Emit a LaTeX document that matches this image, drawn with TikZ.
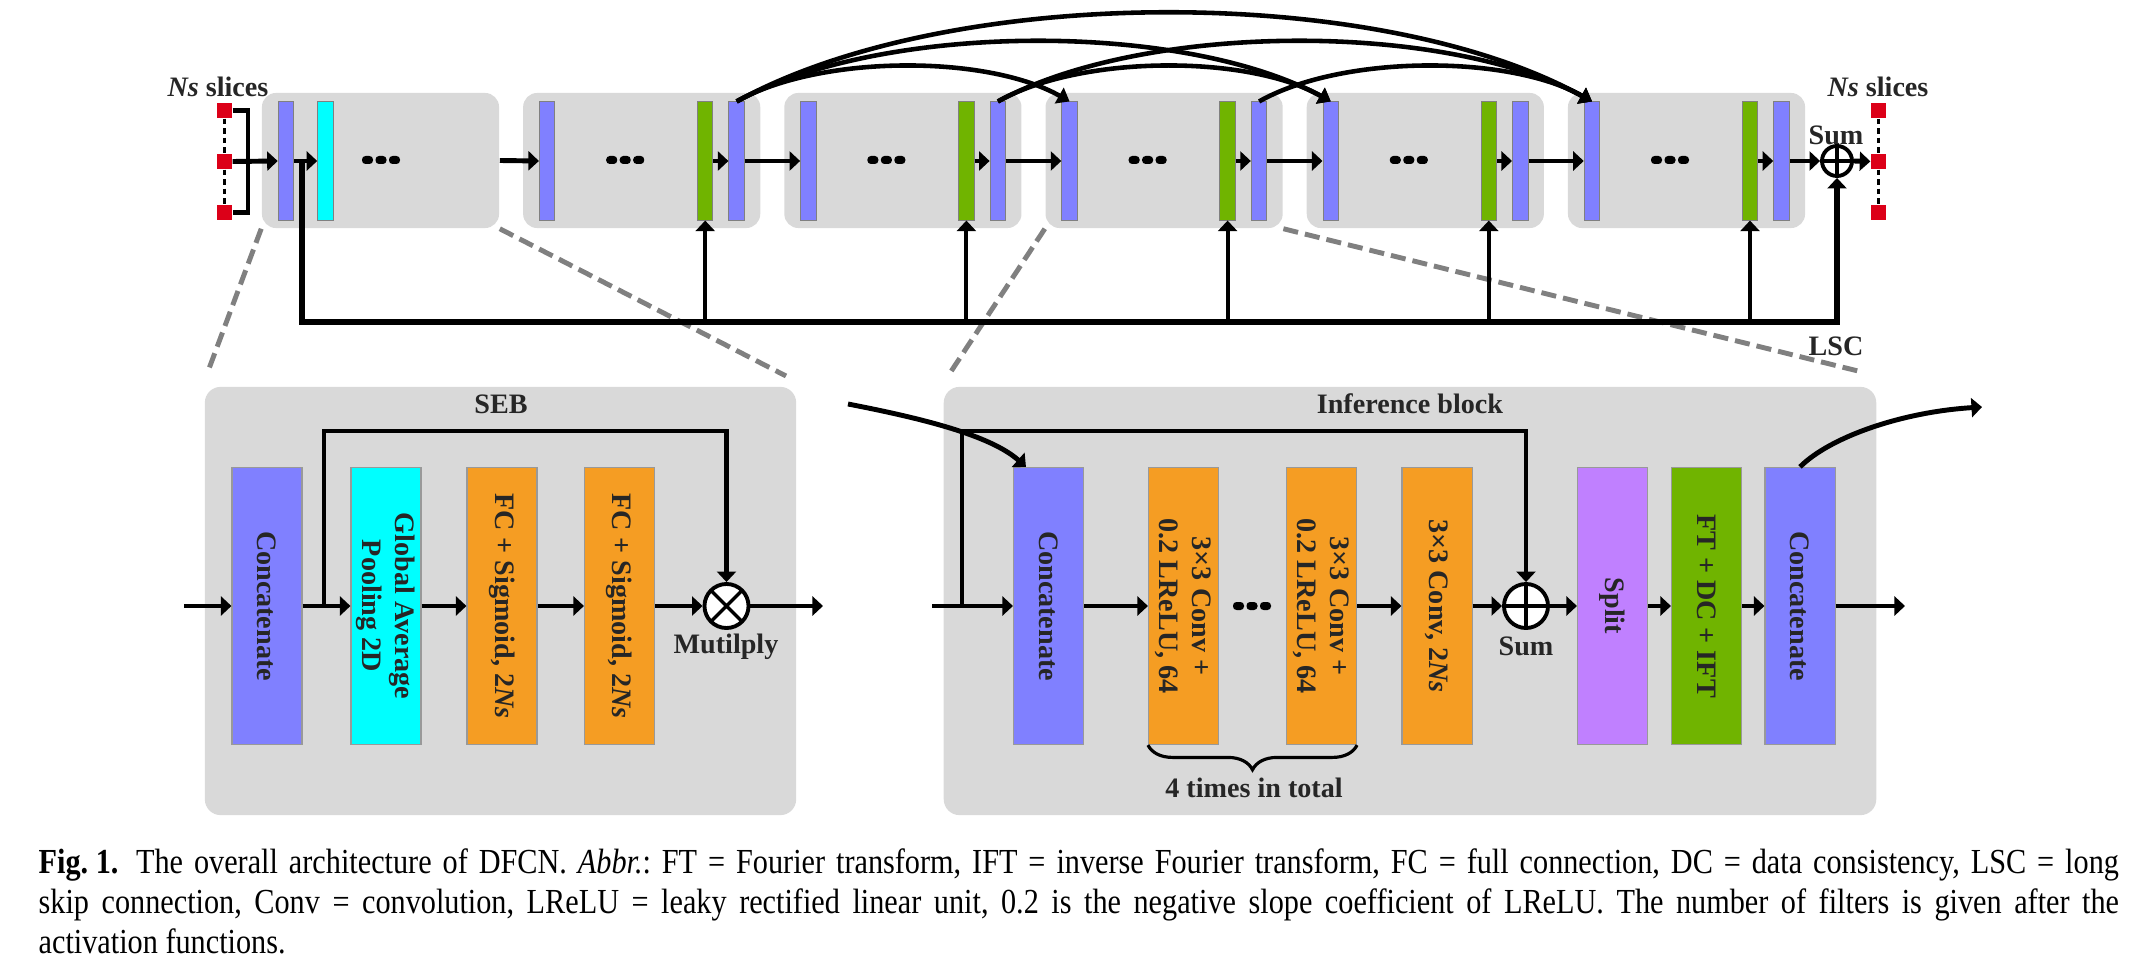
\documentclass[tikz,border=0pt]{standalone}
\usepackage{fontspec}
\setmainfont{Liberation Serif}
\newfontfamily\capfont[FakeStretch=0.86]{Liberation Serif}
\usetikzlibrary{arrows.meta, decorations.pathreplacing}

\definecolor{blkgray}{HTML}{D9D9D9}
\definecolor{catblue}{HTML}{8080FF}
\definecolor{gapcyan}{HTML}{00FFFF}
\definecolor{dcgreen}{HTML}{70B400}
\definecolor{convorange}{HTML}{F59D23}
\definecolor{splitpurple}{HTML}{C080FF}
\definecolor{slicered}{HTML}{DC0018}
\definecolor{txtgray}{HTML}{262626}
\definecolor{zoomgray}{HTML}{808080}

\tikzset{
lbl/.style={font=\fontsize{8}{9.4}\selectfont\bfseries, text=txtgray, inner sep=0pt},
vtxt/.style={lbl, rotate=-90, align=center},
flow/.style={line width=1.4pt, -{Triangle[length=3pt,width=5.4pt]}},
densearc/.style={line width=1.3pt, -{Triangle[length=3.4pt,width=5pt]}},
zoomline/.style={draw=zoomgray, line width=1.4pt, dash pattern=on 4.3pt off 2pt},
pics/dotrow/.style={code={
    \fill[rounded corners=1pt] (-19,-4) rectangle (-8,4) (-5.5,-4) rectangle (5.5,4) (8,-4) rectangle (19,4);}}
}

\begin{document}
\begin{tikzpicture}[x=0.01cm, y=-0.01cm]
		\tikzset{stage/.style = {rectangle, rounded corners=4pt, fill=blkgray, inner sep=0pt, minimum width=2.37cm, minimum height=1.35cm}}
		\tikzset{panel/.style = {rectangle, rounded corners=4.5pt, fill=blkgray, inner sep=0pt, minimum height=4.28cm}}
		\tikzset{bar/.style = {rectangle, draw=gray, line width=0.3pt, inner sep=0pt, minimum width=0.155cm, minimum height=1.18cm}}
		\tikzset{layer/.style = {rectangle, draw=gray!80, line width=0.3pt, inner sep=0pt, minimum width=0.70cm, minimum height=2.77cm}}
		\tikzset{slice/.style = {rectangle, fill=slicered, inner sep=0pt, minimum size=0.15cm}}
		\tikzset{slicedots/.style = {line width=1.1pt, dash pattern=on 1.6pt off 1.1pt}}
		\tikzset{sumop/.style = {circle, draw, line width=1.1pt, fill=white, inner sep=0pt,
			path picture={\draw[line width=1pt] (path picture bounding box.north) -- (path picture bounding box.south)
				(path picture bounding box.west) -- (path picture bounding box.east);}}}
		\tikzset{mulop/.style = {circle, draw, line width=1.1pt, fill=white, inner sep=0pt, minimum size=0.44cm,
			path picture={\draw[line width=1pt] (path picture bounding box.north west) -- (path picture bounding box.south east)
				(path picture bounding box.north east) -- (path picture bounding box.south west);}}}

		\useasboundingbox (0,0) rectangle (2142,970);

		% cascade of blocks
		\node[stage] (Blk_1) at (380.5,160.5) {};
		\node[bar, fill=catblue] (In_1) at (286,161) {};
		\node[bar, fill=gapcyan] (SE_1) at (325.5,161) {};
		\pic at (381,160) {dotrow};
		\foreach \i in {2,...,6}{
			\pgfmathsetmacro{\L}{262+261.2*(\i-1)}
			\node[stage] (Blk_\i) at (\L+118.5,160.5) {};
			\node[bar, fill=catblue] (In_\i) at (\L+24,161) {};
			\node[bar, fill=dcgreen] (DC_\i) at (\L+182,161) {};
			\node[bar, fill=catblue] (Out_\i) at (\L+213.5,161) {};
			\pic at (\L+102,160) {dotrow};
		}

		% input and output slices
		\node[lbl] (Ns_in) at (218,87) {\textit{Ns} slices};
		\node[slice] (SL_1) at (224.5,110.5) {};
		\node[slice] (SL_2) at (224.5,161.5) {};
		\node[slice] (SL_3) at (224.5,212.5) {};
		\node[lbl] (Ns_out) at (1878,87) {\textit{Ns} slices};
		\node[slice] (SR_1) at (1878.5,110.5) {};
		\node[slice] (SR_2) at (1878.5,161.5) {};
		\node[slice] (SR_3) at (1878.5,212.5) {};
		\draw[slicedots] (SL_1.south) -- (SL_2.north);
		\draw[slicedots] (SL_2.south) -- (SL_3.north);
		\draw[slicedots] (SR_1.south) -- (SR_2.north);
		\draw[slicedots] (SR_2.south) -- (SR_3.north);

		\coordinate (Brk) at (248,161);
		\draw[line width=1.2pt] (SL_1.east) -| (Brk) |- (SL_3.east);
		\draw[flow] (SL_2.east) -- (In_1.west);
		\draw[flow] (In_1.east) -- (SE_1.west);
		\draw[flow] (Blk_1.east) -- (In_2.west);
		\foreach \i [count=\j from 3] in {2,...,5}
			\draw[flow] (Out_\i.east) -- (In_\j.west);
		\foreach \i in {2,...,6}
			\draw[flow] (DC_\i.east) -- (Out_\i.west);

		\node[sumop, minimum size=0.30cm] (Sum_0) at (1837,161) {};
		\node[lbl] (Sum_0_lbl) at (1836,135) {Sum};
		\draw[flow] (Out_6.east) -- (Sum_0.west);
		\draw[flow] (Sum_0.east) -- (SR_2.west);

		% dense connections
		\draw[densearc] (Out_2.north) .. controls +(83,-47) and +(-83,-47) .. (In_4.north);
		\draw[densearc] (Out_2.north) .. controls +(148,-80) and +(-148,-80) .. (In_5.north);
		\draw[densearc] (Out_2.north) .. controls +(214,-118) and +(-214,-118) .. (In_6.north);
		\draw[densearc] (Out_3.north) .. controls +(83,-47) and +(-83,-47) .. (In_5.north);
		\draw[densearc] (Out_3.north) .. controls +(148,-80) and +(-148,-80) .. (In_6.north);
		\draw[densearc] (Out_4.north) .. controls +(83,-47) and +(-83,-47) .. (In_6.north);

		% zoom lines
		\coordinate (Z_1) at (207,374);
		\coordinate (Z_2) at (786,376);
		\coordinate (Z_3) at (950,373);
		\coordinate (Z_4) at (1862,372);
		\draw[zoomline] (Blk_1.south west) -- (Z_1);
		\draw[zoomline] (Blk_1.south east) -- (Z_2);
		\draw[zoomline] (Blk_4.south west) -- (Z_3);
		\draw[zoomline] (Blk_4.south east) -- (Z_4);

		% long skip connection
		\coordinate (Tap_1) at (302,161);
		\coordinate (LSC_bus) at (302,322);
		\draw[line width=1.5pt, -{Triangle[length=3pt,width=5.4pt]}] (Tap_1) -- (LSC_bus) -| (Sum_0.south);
		\foreach \i in {2,...,6}
			\draw[line width=1.1pt, -{Triangle[length=3pt,width=5.4pt]}] (DC_\i |- LSC_bus) -- (DC_\i.south);
		\node[lbl] (LSC_lbl) at (1836,346) {LSC};

		% SEB
		\node[panel, minimum width=5.91cm] (SEB) at (500.5,601) {};
		\node[lbl] (SEB_lbl) at (501,404) {SEB};
		\node[layer, fill=catblue] (Cat_a) at (267,606) {};
		\node[layer, fill=gapcyan] (GAP) at (386,606) {};
		\node[layer, fill=convorange] (FC_1) at (502,606) {};
		\node[layer, fill=convorange] (FC_2) at (619.5,606) {};
		\node[vtxt] at (Cat_a) {Concatenate};
		\node[vtxt] at (GAP) {Global Average\\Pooling 2D};
		\node[vtxt] at (FC_1) {FC + Sigmoid, 2\textit{Ns}};
		\node[vtxt] at (FC_2) {FC + Sigmoid, 2\textit{Ns}};
		\node[mulop] (Mul) at (726.5,606) {};
		\node[lbl] (Mul_lbl) at (726,647) {Mutilply};

		\coordinate (SEB_in) at (184,606);
		\coordinate (SEB_tap) at (324,606);
		\coordinate (SEB_top) at (324,431);
		\coordinate (SEB_out) at (823,606);
		\draw[flow] (SEB_in) -- (Cat_a.west);
		\draw[flow] (Cat_a.east) -- (GAP.west);
		\draw[flow] (GAP.east) -- (FC_1.west);
		\draw[flow] (FC_1.east) -- (FC_2.west);
		\draw[flow] (FC_2.east) -- (Mul.west);
		\draw[flow] (Mul.east) -- (SEB_out);
		\draw[flow] (SEB_tap) -- (SEB_top) -| (Mul.north);

		% inference block
		\node[panel, minimum width=9.32cm] (Inf) at (1410,601) {};
		\node[lbl] (Inf_lbl) at (1410,404) {Inference block};
		\node[layer, fill=catblue] (Cat_b) at (1048.5,606) {};
		\node[layer, fill=convorange] (Conv_1) at (1183.5,606) {};
		\node[layer, fill=convorange] (Conv_2) at (1321.5,606) {};
		\node[layer, fill=convorange] (Conv_3) at (1437,606) {};
		\node[layer, fill=splitpurple] (Split) at (1612.5,606) {};
		\node[layer, fill=dcgreen] (FDI) at (1706.5,606) {};
		\node[layer, fill=catblue] (Cat_c) at (1800,606) {};
		\node[vtxt] at (Cat_b) {Concatenate};
		\node[vtxt] at (Conv_1) {3×3 Conv +\\0.2 LReLU, 64};
		\node[vtxt] at (Conv_2) {3×3 Conv +\\0.2 LReLU, 64};
		\node[vtxt] at (Conv_3) {3×3 Conv, 2\textit{Ns}};
		\node[vtxt] at (Split) {Split};
		\node[vtxt] at (FDI) {FT + DC + IFT};
		\node[vtxt] at (Cat_c) {Concatenate};
		\pic at (1252,606) {dotrow};
		\node[sumop, minimum size=0.44cm] (Sum_1) at (1526,606) {};
		\node[lbl] (Sum_1_lbl) at (1526,646) {Sum};

		\coordinate (Inf_in) at (932,606);
		\coordinate (Inf_tap) at (962,606);
		\coordinate (Inf_top) at (962,431);
		\coordinate (Inf_out) at (1905,606);
		\coordinate (Inf_from) at (848,404);
		\coordinate (Inf_to) at (1982,407);
		\draw[flow] (Inf_in) -- (Cat_b.west);
		\draw[flow] (Inf_tap) -- (Inf_top) -| (Sum_1.north);
		\draw[flow] (Inf_from) .. controls +(72,14) and +(-36,-32) .. ([xshift=0.13cm]Cat_b.north west);
		\draw[flow] (Cat_b.east) -- (Conv_1.west);
		\draw[flow] (Conv_2.east) -- (Conv_3.west);
		\draw[flow] (Conv_3.east) -- (Sum_1.west);
		\draw[flow] (Sum_1.east) -- (Split.west);
		\draw[flow] (Split.east) -- (FDI.west);
		\draw[flow] (FDI.east) -- (Cat_c.west);
		\draw[flow] (Cat_c.east) -- (Inf_out);
		\draw[flow] (Cat_c.north) .. controls +(30,-30) and +(-80,5) .. (Inf_to);

		\draw[line width=0.9pt, decorate, decoration={brace, mirror, amplitude=7pt}] (Conv_1.south west) -- (Conv_2.south east);
		\node[lbl] (Rep_lbl) at (1254,788) {4 times in total};

		% caption
		\node[anchor=north west, inner sep=0pt, text width=20.79cm, align=justify,
			font=\capfont\fontsize{10}{11.4}\selectfont\frenchspacing] (Caption) at (38,848)
			{\mbox{\textbf{Fig. 1.}}\enspace The overall architecture of DFCN. \textit{Abbr.}: FT = Fourier transform, IFT = inverse Fourier transform, FC = full connection, DC = data consistency, LSC = long\linebreak
			skip connection, Conv = convolution, LReLU = leaky rectified linear unit, 0.2 is the negative slope coefficient of LReLU. The number of filters is given after the\linebreak
			activation functions.};

	\end{tikzpicture}
\end{document}
